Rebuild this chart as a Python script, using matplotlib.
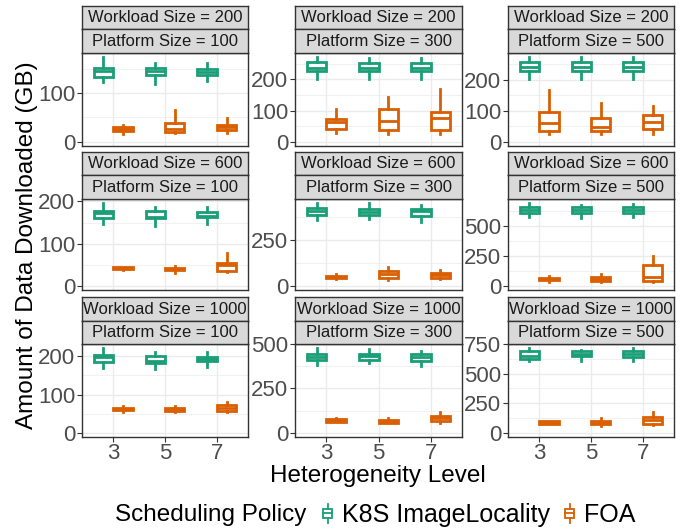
import matplotlib
matplotlib.use('Agg')
import matplotlib.pyplot as plt
from matplotlib.legend_handler import HandlerBase
from matplotlib.patches import Rectangle
from matplotlib.lines import Line2D

plt.rcParams['font.family'] = ['Liberation Sans', 'DejaVu Sans']

# ---------------- data ----------------
workload_sizes = [200, 200, 200, 600, 600, 600, 1000, 1000, 1000]
platform_sizes = [100, 300, 500, 100, 300, 500, 100, 300, 500]
heterogeneity_levels = ['3', '5', '7']
policies = ['K8S ImageLocality', 'FOA']

# per panel (9) x heterogeneity level (3)
k8s_whislo = [[123, 118, 125], [202, 202, 202], [204, 204, 204],
              [146, 142, 147], [362, 366, 351], [575, 569, 575],
              [170, 166, 172], [383, 392, 374], [609, 609, 609]]
k8s_q1 = [[134, 137, 137], [227, 228, 228], [230, 230, 230],
          [160, 160, 162], [388, 388, 384], [608, 615, 611],
          [184, 183, 187], [411, 409, 406], [623, 649, 637]]
k8s_med = [[145, 146, 144], [238, 238, 238], [242, 242, 242],
           [172, 164, 166], [408, 402, 408], [636, 639, 639],
           [197, 188, 193], [430, 434, 430], [652, 669, 663]]
k8s_q3 = [[151, 151, 150], [255, 254, 254], [256, 256, 256],
          [178, 177, 175], [426, 420, 420], [661, 658, 658],
          [202, 200, 198], [445, 443, 445], [691, 688, 688]]
k8s_whishi = [[174, 163, 162], [271, 270, 269], [273, 273, 273],
              [196, 186, 188], [453, 453, 444], [694, 680, 686],
              [221, 211, 211], [477, 472, 464], [714, 703, 714]]

foa_whislo = [[16, 18, 19], [27, 25, 24], [25, 24, 26],
              [38, 31, 32], [36, 34, 36], [33, 31, 33],
              [55, 54, 54], [60, 53, 53], [73, 59, 68]]
foa_q1 = [[22, 20, 24], [40, 37, 37], [34, 35, 40],
          [40, 38, 36], [42, 42, 45], [47, 42, 44],
          [59, 58, 58], [62, 57, 64], [76, 71, 76]]
foa_med = [[26, 26, 30], [62, 65, 76], [62, 49, 64],
           [42, 40, 49], [50, 63, 58], [58, 61, 75],
           [62, 61, 66], [71, 66, 81], [86, 85, 108]]
foa_q3 = [[30, 39, 35], [73, 106, 95], [95, 78, 86],
          [44, 42, 55], [56, 80, 69], [69, 78, 175],
          [65, 64, 72], [79, 73, 92], [96, 99, 130]]
foa_whishi = [[35, 65, 48], [105, 144, 168], [168, 124, 116],
              [45, 47, 77], [63, 105, 85], [83, 97, 250],
              [71, 69, 81], [81, 81, 115], [98, 127, 178]]

y_major_ticks = [[0, 100], [0, 100, 200], [0, 100, 200],
                 [0, 100, 200], [0, 250], [0, 250, 500],
                 [0, 100, 200], [0, 250, 500], [0, 250, 500, 750]]

# ---------------- style / layout ----------------
COLORS = ['#1B9E77', '#D95F02']
W, H = 691, 531
fig = plt.figure(figsize=(W / 100, H / 100), dpi=100)


def fx(x):
    return x / W


def fy(y):
    return 1 - y / H


col_x = [(82, 248), (295, 462), (508, 674)]
row_plot = [(53, 146), (199, 290), (344, 437)]
row_strip1 = [(6, 29), (152, 175), (297, 321)]
row_strip2 = [(29, 53), (175, 199), (321, 344)]

BORDER = '#333333'
LW = 2.0
TICK_FS = 16
series = [
    (k8s_whislo, k8s_q1, k8s_med, k8s_q3, k8s_whishi),
    (foa_whislo, foa_q1, foa_med, foa_q3, foa_whishi),
]
offsets = [-0.1875, 0.1875]


def add_strip(x0, x1, yt, yb, text):
    sax = fig.add_axes([fx(x0), fy(yb), fx(x1 - x0), (yb - yt) / H])
    sax.set_facecolor('#D9D9D9')
    sax.set_xticks([])
    sax.set_yticks([])
    for s in sax.spines.values():
        s.set_color(BORDER)
        s.set_linewidth(1.0)
    sax.text(0.5, 0.5, text, ha='center', va='center', fontsize=12,
             color='#1A1A1A', transform=sax.transAxes)


for p in range(9):
    r, c = divmod(p, 3)
    x0, x1 = col_x[c]
    yt, yb = row_plot[r]
    ax = fig.add_axes([fx(x0), fy(yb), fx(x1 - x0), (yb - yt) / H])
    for si, (lo, q1, med, q3, hi) in enumerate(series):
        stats = []
        for k in range(3):
            stats.append(dict(whislo=lo[p][k], q1=q1[p][k], med=med[p][k],
                              q3=q3[p][k], whishi=hi[p][k]))
        col = COLORS[si]
        ax.bxp(stats, positions=[k + 1 + offsets[si] for k in range(3)],
               widths=0.375, patch_artist=True, showfliers=False,
               showcaps=False, manage_ticks=False,
               boxprops=dict(facecolor='white', edgecolor=col, linewidth=LW),
               medianprops=dict(color=col, linewidth=LW, solid_capstyle='butt'),
               whiskerprops=dict(color=col, linewidth=LW))
    top = max(max(k8s_whishi[p]), max(foa_whishi[p]))
    ax.set_ylim(-0.05 * top, top * 1.05)
    ax.set_xlim(0.4, 3.6)
    majors = y_major_ticks[p]
    step = majors[1] - majors[0]
    minors = [m + step / 2 for m in [majors[0] - step] + majors]
    ax.set_yticks(majors)
    ax.set_yticks([m for m in minors if -0.05 * top < m < top * 1.05], minor=True)
    ax.set_yticklabels([str(v) for v in majors])
    ax.set_xticks([1, 2, 3])
    ax.grid(which='major', color='#EBEBEB', linewidth=1.0)
    ax.grid(which='minor', axis='y', color='#EBEBEB', linewidth=0.5)
    ax.set_axisbelow(True)
    ax.tick_params(axis='y', which='major', length=3.5, width=0.8, color=BORDER,
                   labelsize=TICK_FS, labelcolor='#4D4D4D', pad=1.5)
    ax.tick_params(axis='y', which='minor', length=0)
    if r == 2:
        ax.set_xticklabels(heterogeneity_levels)
        ax.tick_params(axis='x', length=3.5, width=0.8, color=BORDER,
                       labelsize=TICK_FS, labelcolor='#4D4D4D', pad=1.0)
    else:
        ax.tick_params(axis='x', length=0, labelbottom=False)
    for s in ax.spines.values():
        s.set_color(BORDER)
        s.set_linewidth(1.0)
    add_strip(x0, x1, *row_strip1[r], f'Workload Size = {workload_sizes[p]}')
    add_strip(x0, x1, *row_strip2[r], f'Platform Size = {platform_sizes[p]}')

fig.text(fx(27), fy(245), 'Amount of Data Downloaded (GB)', rotation=90,
         ha='center', va='center', fontsize=17.5, color='black')
fig.text(fx(378), fy(476), 'Heterogeneity Level', ha='center', va='center',
         fontsize=17.5, color='black')


class BoxHandler(HandlerBase):
    def create_artists(self, legend, orig_handle, xdescent, ydescent,
                       width, height, fontsize, trans):
        col = orig_handle.get_color()
        x0, y0 = -xdescent, -ydescent
        cx = x0 + width / 2
        bw = width * 0.6
        arts = []
        rect = Rectangle((cx - bw / 2, y0 + height * 0.25), bw, height * 0.5,
                         facecolor='white', edgecolor=col, linewidth=1.3,
                         transform=trans)
        arts.append(rect)
        arts.append(Line2D([cx, cx], [y0, y0 + height * 0.25], color=col,
                           linewidth=1.3, transform=trans))
        arts.append(Line2D([cx, cx], [y0 + height * 0.75, y0 + height], color=col,
                           linewidth=1.3, transform=trans))
        arts.append(Line2D([cx - bw / 2, cx + bw / 2], [y0 + height / 2] * 2,
                           color=col, linewidth=1.3, transform=trans))
        return arts


fig.text(fx(115), fy(515), 'Scheduling Policy', ha='left', va='center',
         fontsize=17.5, color='black')
handles = [Line2D([], [], color=COLORS[i], label=policies[i]) for i in range(2)]
fig.legend(handles=handles, loc='center left',
           bbox_to_anchor=(fx(320), fy(515)), ncol=2, frameon=False,
           fontsize=18, handlelength=0.6, handleheight=0.8,
           handletextpad=0.28, columnspacing=0.48, borderpad=0, borderaxespad=0,
           handler_map={Line2D: BoxHandler()})

fig.savefig('out.png', dpi=100)
